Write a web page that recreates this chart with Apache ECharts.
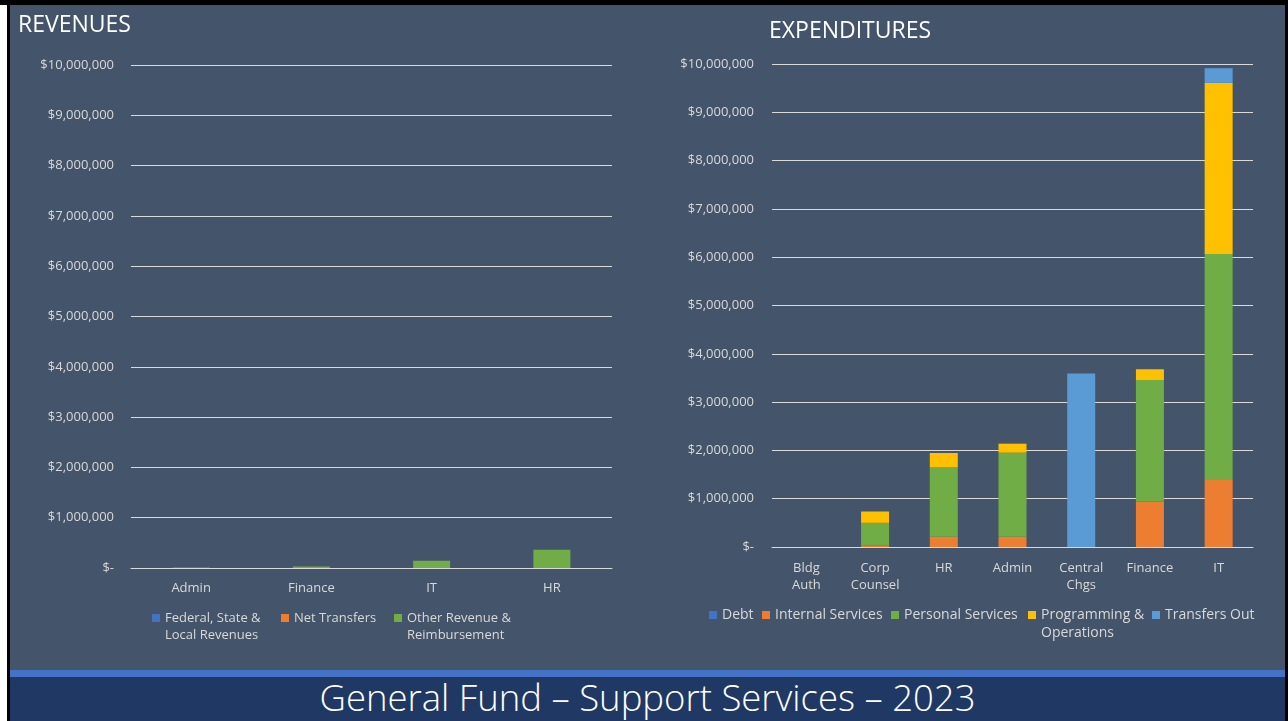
<!DOCTYPE html>
<html>
<head>
<meta charset="utf-8">
<title>General Fund – Support Services – 2023</title>
<script src="https://cdn.jsdelivr.net/npm/echarts@6/dist/echarts.min.js"></script>
<style>
  html, body { margin: 0; padding: 0; background: #ffffff; }
  #frame { position: relative; width: 1288px; height: 721px; overflow: hidden; background: #ffffff; }
  .edge { position: absolute; background: #000000; }
  #slide { position: absolute; left: 10px; top: 5px; width: 1275px; height: 716px; background: #44546A; }
  #rule { position: absolute; left: 10px; top: 670px; width: 1275px; height: 7px; background: #4472C4; }
  #band { position: absolute; left: 10px; top: 677px; width: 1275px; height: 44px; background: #203864; }
  #footer { position: absolute; left: 10px; top: 672px; width: 1275px; height: 50px; line-height: 50px;
            text-align: center; color: #ffffff; font-family: "Open Sans", sans-serif; font-weight: 300; font-size: 36.5px; white-space: nowrap; }
  #chart { position: absolute; left: 0; top: 0; width: 1288px; height: 721px; }
</style>
</head>
<body>
<div id="frame">
  <div class="edge" style="left:0;top:0;width:1288px;height:5px;"></div>
  <div class="edge" style="left:7px;top:0;width:3px;height:721px;"></div>
  <div class="edge" style="left:1285px;top:0;width:3px;height:721px;"></div>
  <div id="slide"></div>
  <div id="rule"></div>
  <div id="band"></div>
  <div id="footer">General Fund – Support Services – 2023</div>
  <div id="chart"></div>
</div>
<script>
// Revenues by department
const revCategories = ['Admin', 'Finance', 'IT', 'HR'];
const revFederalStateLocal = [20000, 0, 0, 0];
const revNetTransfers = [0, 0, 0, 0];
const revOtherReimbursement = [0, 30000, 145000, 365000];

// Expenditures by department
const expCategories = ['Bldg\nAuth', 'Corp\nCounsel', 'HR', 'Admin', 'Central\nChgs', 'Finance', 'IT'];
const expDebt = [0, 0, 0, 0, 0, 0, 0];
const expInternalServices = [0, 30000, 213000, 213000, 0, 940000, 1387000];
const expPersonalServices = [0, 470000, 1437000, 1740000, 0, 2518000, 4680000];
const expProgrammingOps = [0, 235000, 296000, 186000, 0, 222000, 3541000];
const expTransfersOut = [0, 0, 0, 0, 3590000, 0, 305000];

// Shared value-axis ticks
const axisMin = 0;
const axisMax = 10000000;
const axisStep = 1000000;

const FONT = '"Open Sans", sans-serif';
const TEXT = '#D9D9D9';
const C_BLUE = '#4472C4', C_ORANGE = '#ED7D31', C_GREEN = '#70AD47', C_GOLD = '#FFC000', C_SKY = '#5B9BD5';

function money(v) {
  if (v === 0) return '$-';
  return '$' + v.toLocaleString('en-US');
}

function valueAxis(gridIndex, margin) {
  return {
    type: 'value', gridIndex: gridIndex, min: axisMin, max: axisMax, interval: axisStep,
    axisLine: { show: false }, axisTick: { show: false },
    axisLabel: { color: TEXT, fontFamily: FONT, fontSize: 13, margin: margin, formatter: money },
    splitLine: { lineStyle: { color: '#D9D9D9', width: 1 } }
  };
}

function catAxis(gridIndex, data, margin) {
  return {
    type: 'category', gridIndex: gridIndex, data: data,
    axisLine: { show: true, lineStyle: { color: '#D9D9D9', width: 1 } },
    axisTick: { show: false },
    axisLabel: { color: TEXT, fontFamily: FONT, fontSize: 13, lineHeight: 17, margin: margin, interval: 0 }
  };
}

function bar(name, data, color, gridIndex, stack, width) {
  return {
    name: name, type: 'bar', stack: stack, data: data,
    xAxisIndex: gridIndex, yAxisIndex: gridIndex,
    barWidth: width, itemStyle: { color: color }
  };
}

// Legend entries: one component per entry so each sits where it belongs.
// Two-line entries get a blank leading line so the first line lines up with the swatch.
function legendItem(name, left, centerY, twoLine, fontSize, lh) {
  return {
    data: [name], left: left, top: twoLine ? centerY - lh * 1.5 : centerY - lh / 2,
    orient: 'horizontal', padding: 0, itemWidth: 8, itemHeight: 8, icon: 'rect',
    selectedMode: false,
    formatter: twoLine ? function (n) { return ' \n' + n; } : '{name}',
    textStyle: { color: TEXT, fontFamily: FONT, fontSize: fontSize, lineHeight: lh }
  };
}

const chart = echarts.init(document.getElementById('chart'), null, { renderer: 'canvas' });

chart.setOption({
  backgroundColor: 'transparent',
  animation: false,
  title: [
    { text: 'REVENUES', left: 18, top: 14, padding: 0,
      textStyle: { color: '#FFFFFF', fontFamily: FONT, fontSize: 23, fontWeight: 'normal' } },
    { text: 'EXPENDITURES', left: 769, top: 20, padding: 0,
      textStyle: { color: '#FFFFFF', fontFamily: FONT, fontSize: 23, fontWeight: 'normal' } }
  ],
  grid: [
    { left: 131, top: 65, width: 481, height: 503 },
    { left: 772, top: 64, width: 481, height: 483 }
  ],
  xAxis: [catAxis(0, revCategories, 12), catAxis(1, expCategories, 13)],
  yAxis: [valueAxis(0, 17), valueAxis(1, 18)],
  legend: [
    legendItem('Federal, State &\nLocal Revenues', 152, 618, true, 13, 17),
    legendItem('Net Transfers', 281, 618, false, 13, 17),
    legendItem('Other Revenue &\nReimbursement', 394, 618, true, 13, 17),
    legendItem('Debt', 709, 615, false, 14, 18),
    legendItem('Internal Services', 762, 615, false, 14, 18),
    legendItem('Personal Services', 891, 615, false, 14, 18),
    legendItem('Programming &\nOperations', 1028, 615, true, 14, 18),
    legendItem('Transfers Out', 1152, 615, false, 14, 18)
  ],
  series: [
    bar('Federal, State &\nLocal Revenues', revFederalStateLocal, C_BLUE, 0, 'rev', 37),
    bar('Net Transfers', revNetTransfers, C_ORANGE, 0, 'rev', 37),
    bar('Other Revenue &\nReimbursement', revOtherReimbursement, C_GREEN, 0, 'rev', 37),
    bar('Debt', expDebt, C_BLUE, 1, 'exp', 28),
    bar('Internal Services', expInternalServices, C_ORANGE, 1, 'exp', 28),
    bar('Personal Services', expPersonalServices, C_GREEN, 1, 'exp', 28),
    bar('Programming &\nOperations', expProgrammingOps, C_GOLD, 1, 'exp', 28),
    bar('Transfers Out', expTransfersOut, C_SKY, 1, 'exp', 28)
  ]
});
</script>
</body>
</html>
